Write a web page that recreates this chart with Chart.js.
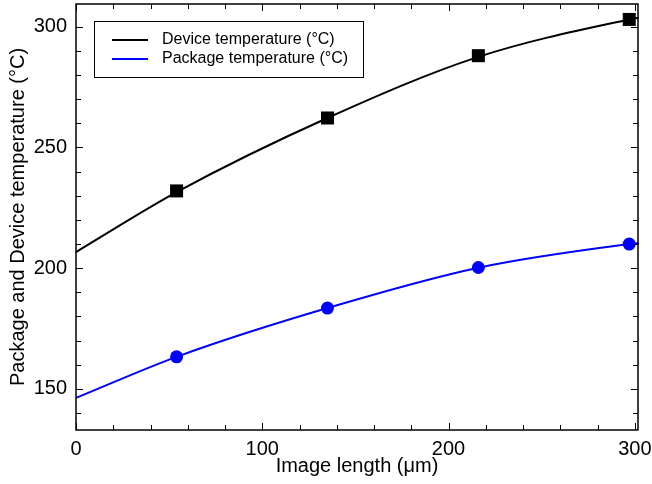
<!DOCTYPE html>
<html>
<head>
<meta charset="utf-8">
<script src="https://cdn.jsdelivr.net/npm/chart.js@4/dist/chart.umd.min.js"></script>
<style>
  html, body { margin: 0; padding: 0; background: #fff; }
  #wrap { width: 652px; height: 484px; }
</style>
</head>
<body>
<div id="wrap"><canvas id="tempChart" width="652" height="484"></canvas></div>
<script>
// measured points (image length in um)
const imageLength = [54, 135, 216, 297];
const deviceTemp = [232, 262.2, 288, 303];
const packageTemp = [163.3, 183.5, 200.3, 210];

// fitted curves
const fitX = [0, 54, 135, 216, 297, 302];
const deviceFit = [206.7, 231.5, 262.2, 287.5, 303, 303.7];
const packageFit = [146.3, 163.3, 183.5, 200.2, 210, 210.4];

// axis ticks
const xTicks = [0, 100, 200, 300];
const yTicks = [150, 200, 250, 300];
const xMinorStep = 20;
const yMinorStep = 10;

const FONT = '"Liberation Sans", Arial, Helvetica, sans-serif';

const toPts = (xs, ys) => xs.map((x, i) => ({ x: x, y: ys[i] }));

// box frame, inward ticks on all four sides, legend
const framePlugin = {
  id: 'frame',
  afterDraw(chart) {
    const ctx = chart.ctx;
    const a = chart.chartArea;
    const xs = chart.scales.x, ys = chart.scales.y;
    ctx.save();
    ctx.strokeStyle = '#000';
    ctx.lineWidth = 1.5;
    ctx.strokeRect(a.left, a.top, a.right - a.left, a.bottom - a.top);

    ctx.lineWidth = 1;
    ctx.beginPath();
    for (let v = xs.min; v <= xs.max + 1e-6; v += xMinorStep) {
      const len = xTicks.includes(v) ? 7 : 5;
      const px = Math.round(xs.getPixelForValue(v)) + 0.5;
      ctx.moveTo(px, a.bottom); ctx.lineTo(px, a.bottom - len);
      ctx.moveTo(px, a.top); ctx.lineTo(px, a.top + len);
    }
    for (let v = 140; v <= ys.max; v += yMinorStep) {
      const len = yTicks.includes(v) ? 7 : 5;
      const py = Math.round(ys.getPixelForValue(v)) + 0.5;
      ctx.moveTo(a.left, py); ctx.lineTo(a.left + len, py);
      ctx.moveTo(a.right, py); ctx.lineTo(a.right - len, py);
    }
    ctx.stroke();

    // legend
    ctx.lineWidth = 1;
    ctx.strokeRect(94.5, 21.5, 269, 56);
    const items = [
      { label: 'Device temperature (\u00B0C)', color: '#000000', y: 40 },
      { label: 'Package temperature (\u00B0C)', color: '#0000ff', y: 59 }
    ];
    ctx.font = '16px ' + FONT;
    ctx.textBaseline = 'middle';
    items.forEach(it => {
      ctx.strokeStyle = it.color;
      ctx.lineWidth = 2;
      ctx.beginPath();
      ctx.moveTo(112, it.y); ctx.lineTo(148, it.y);
      ctx.stroke();
      ctx.fillStyle = '#000';
      ctx.fillText(it.label, 162, it.y);
    });
    ctx.restore();
  }
};

const noPad = s => { s.paddingTop = 0; s.paddingBottom = 0; s.paddingLeft = 0; s.paddingRight = 0; };

new Chart(document.getElementById('tempChart').getContext('2d'), {
  type: 'scatter',
  data: {
    datasets: [
      {
        label: 'Device fit',
        data: toPts(fitX, deviceFit),
        showLine: true,
        borderColor: '#000000',
        borderWidth: 2,
        pointRadius: 0,
        cubicInterpolationMode: 'monotone'
      },
      {
        label: 'Package fit',
        data: toPts(fitX, packageFit),
        showLine: true,
        borderColor: '#0000ff',
        borderWidth: 2,
        pointRadius: 0,
        cubicInterpolationMode: 'monotone'
      },
      {
        label: 'Device temperature (\u00B0C)',
        data: toPts(imageLength, deviceTemp),
        pointStyle: 'rect',
        pointRadius: 9.2,
        backgroundColor: '#000000',
        borderColor: '#000000',
        borderWidth: 0
      },
      {
        label: 'Package temperature (\u00B0C)',
        data: toPts(imageLength, packageTemp),
        pointStyle: 'circle',
        pointRadius: 6.5,
        backgroundColor: '#0000ff',
        borderColor: '#0000ff',
        borderWidth: 0
      }
    ]
  },
  options: {
    responsive: false,
    animation: false,
    clip: false,
    layout: { autoPadding: false, padding: { top: 4, right: 14, left: 0, bottom: 0 } },
    plugins: {
      legend: { display: false },
      tooltip: { enabled: false }
    },
    scales: {
      x: {
        type: 'linear',
        min: 0,
        max: 301.7,
        afterBuildTicks: s => { s.ticks = xTicks.map(v => ({ value: v })); },
        afterFit: s => { s.height = 54; noPad(s); },
        grid: { display: false, drawTicks: false },
        border: { display: false },
        ticks: { color: '#000', padding: 7, maxRotation: 0, font: { family: FONT, size: 20 } },
        title: {
          display: true,
          text: 'Image length (\u03BCm)',
          color: '#000',
          padding: { top: 0, bottom: 6 },
          font: { family: FONT, size: 20 }
        }
      },
      y: {
        type: 'linear',
        min: 133,
        max: 309.4,
        afterBuildTicks: s => { s.ticks = yTicks.map(v => ({ value: v })); },
        afterFit: s => { s.width = 76; noPad(s); },
        grid: { display: false, drawTicks: false },
        border: { display: false },
        ticks: { color: '#000', padding: 9, font: { family: FONT, size: 20 } },
        title: {
          display: true,
          text: 'Package and Device temperature (\u00B0C)',
          color: '#000',
          padding: { top: 6, bottom: 0 },
          font: { family: FONT, size: 20 }
        }
      }
    }
  },
  plugins: [framePlugin]
});
</script>
</body>
</html>
